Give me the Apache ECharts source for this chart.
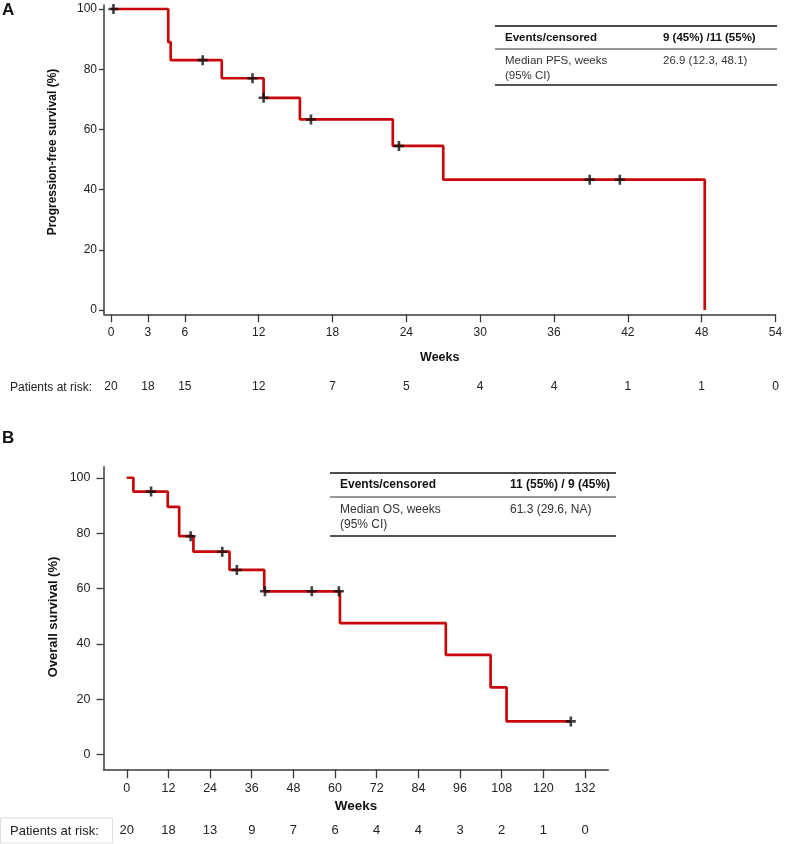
<!DOCTYPE html>
<html>
<head>
<meta charset="utf-8">
<script src="https://cdn.jsdelivr.net/npm/echarts@6/dist/echarts.min.js"></script>
<style>
html,body{margin:0;padding:0;background:#fff;}
#chart{width:786px;height:844px;}
</style>
</head>
<body>
<div id="chart"></div>
<script>
// ---------- Panel A : progression-free survival ----------
const pfsTimes = [0, 4.65, 4.85, 9.0, 12.4, 15.35, 22.9, 27.0, 48.25];
const pfsSurv  = [100, 89, 83, 77, 70.5, 63.3, 54.5, 43.3, 0];
const pfsCensorTimes = [0.2, 7.45, 11.5, 12.4, 16.25, 23.4, 38.9, 41.35];
const pfsCensorSurv  = [100, 83, 77, 70.5, 63.3, 54.5, 43.3, 43.3];
const pfsTicks  = [0, 3, 6, 12, 18, 24, 30, 36, 42, 48, 54];
const pfsAtRisk = [20, 18, 15, 12, 7, 5, 4, 4, 1, 1, 0];

// ---------- Panel B : overall survival ----------
const osTimes = [0, 1.9, 11.8, 15.1, 19.2, 29.6, 39.6, 61.4, 91.9, 104.8, 109.4, 127.9];
const osSurv  = [100, 95, 89.5, 78.9, 73.3, 66.7, 59, 47.5, 36, 24.3, 12, 12];
const osCensorTimes = [7.0, 18.4, 27.5, 31.7, 39.8, 53.3, 61.1, 127.9];
const osCensorSurv  = [95, 78.9, 73.3, 66.7, 59, 59, 59, 12];
const osTicks  = [0, 12, 24, 36, 48, 60, 72, 84, 96, 108, 120, 132];
const osAtRisk = [20, 18, 13, 9, 7, 6, 4, 4, 3, 2, 1, 0];

const yTicks = [0, 20, 40, 60, 80, 100];

const pfsTable = [["Events/censored", "9 (45%) /11 (55%)"], ["Median PFS, weeks\n(95% CI)", "26.9 (12.3, 48.1)"]];
const osTable  = [["Events/censored", "11 (55%) / 9 (45%)"], ["Median OS, weeks\n(95% CI)", "61.3 (29.6, NA)"]];

const FONT = 'Arial, "Liberation Sans", sans-serif';
const RED = '#c8070b';
const AX = '#3a3a3a';
const CROSS = 'path://M3.7,0H6.3V3.7H10V6.3H6.3V10H3.7V6.3H0V3.7H3.7Z';

function zip(a, b) { return a.map((v, i) => [v, b[i]]); }

function mainX(grid, min, max, ticks, tickLen, margin, fs) {
  return {
    type: 'value', gridIndex: grid, min: min, max: max, position: 'bottom',
    axisLine: { show: true, onZero: false, lineStyle: { color: AX, width: 1.5 } },
    axisTick: { show: true, inside: false, customValues: ticks, length: tickLen, lineStyle: { color: AX, width: 1.3 } },
    axisLabel: { customValues: ticks, margin: margin, color: '#222', fontSize: fs, fontFamily: FONT },
    splitLine: { show: false }
  };
}
function riskX(grid, min, max, ticks, risk, offset, fs) {
  return {
    type: 'value', gridIndex: grid, min: min, max: max, position: 'bottom', offset: offset,
    axisLine: { show: false }, axisTick: { show: false }, splitLine: { show: false },
    axisLabel: {
      customValues: ticks, margin: 0, color: '#222', fontSize: fs, fontFamily: FONT,
      formatter: function (v) { const i = ticks.indexOf(v); return i >= 0 ? String(risk[i]) : ''; }
    }
  };
}
function mainY(grid, min, max, tickLen, margin, fs) {
  return {
    type: 'value', gridIndex: grid, min: min, max: max,
    axisLine: { show: true, onZero: false, lineStyle: { color: AX, width: 1.5 } },
    axisTick: { show: true, inside: false, customValues: yTicks, length: tickLen, lineStyle: { color: AX, width: 1.3 } },
    axisLabel: { customValues: yTicks, margin: margin, color: '#222', fontSize: fs, fontFamily: FONT },
    splitLine: { show: false }
  };
}

function tableGraphics(t, x0, x1, colX, yTop, yMid, yBot, fs) {
  const g = [];
  g.push({ type: 'line', shape: { x1: x0, y1: yTop, x2: x1, y2: yTop }, style: { stroke: '#111', lineWidth: 1.5 } });
  g.push({ type: 'line', shape: { x1: x0, y1: yMid, x2: x1, y2: yMid }, style: { stroke: '#777', lineWidth: 1.5 } });
  g.push({ type: 'line', shape: { x1: x0, y1: yBot, x2: x1, y2: yBot }, style: { stroke: '#555', lineWidth: 2 } });
  const hy = (yTop + yMid) / 2;
  g.push({ type: 'text', x: x0 + 10, y: hy, style: { text: t[0][0], font: 'bold ' + fs + 'px ' + FONT, fill: '#111', verticalAlign: 'middle' } });
  g.push({ type: 'text', x: colX, y: hy, style: { text: t[0][1], font: 'bold ' + fs + 'px ' + FONT, fill: '#111', verticalAlign: 'middle' } });
  g.push({ type: 'text', x: x0 + 10, y: yMid + 5, style: { text: t[1][0], font: fs + 'px ' + FONT, fill: '#333', verticalAlign: 'top', lineHeight: fs + 3 } });
  g.push({ type: 'text', x: colX, y: yMid + 5, style: { text: t[1][1], font: fs + 'px ' + FONT, fill: '#333', verticalAlign: 'top', lineHeight: fs + 3 } });
  return g;
}

const chart = echarts.init(document.getElementById('chart'), null, { renderer: 'canvas' });

const graphics = [].concat(
  [
    { type: 'text', x: 2, y: 2, style: { text: 'A', font: 'bold 17px ' + FONT, fill: '#111' } },
    { type: 'text', x: 2, y: 430, style: { text: 'B', font: 'bold 17px ' + FONT, fill: '#111' } },
    { type: 'text', x: 53, y: 152, rotation: Math.PI / 2, style: { text: 'Progression-free survival (%)', font: 'bold 12px ' + FONT, fill: '#111', align: 'center', verticalAlign: 'middle' } },
    { type: 'text', x: 53, y: 617, rotation: Math.PI / 2, style: { text: 'Overall survival (%)', font: 'bold 13px ' + FONT, fill: '#111', align: 'center', verticalAlign: 'middle' } },
    { type: 'text', x: 10, y: 388, style: { text: 'Patients at risk:', font: '12px ' + FONT, fill: '#222', verticalAlign: 'middle' } },
    { type: 'rect', shape: { x: 0.5, y: 818, width: 112, height: 25 }, style: { fill: 'none', stroke: '#ddd', lineWidth: 1 } },
    { type: 'text', x: 10, y: 831, style: { text: 'Patients at risk:', font: '13px ' + FONT, fill: '#222', verticalAlign: 'middle' } }
  ],
  tableGraphics(pfsTable, 495, 777, 663, 26, 49, 85, 11.5),
  tableGraphics(osTable, 330, 616, 510, 473, 497, 536, 12)
);

const option = {
  animation: false,
  backgroundColor: '#fff',
  grid: [
    { left: 104, right: 10.5, top: 5, bottom: 529.7 },
    { left: 103.5, right: 177.7, top: 466.7, bottom: 74.7 }
  ],
  xAxis: [
    Object.assign(mainX(0, -0.57, 54, pfsTicks, 8, 12, 12), {
      name: 'Weeks', nameLocation: 'middle', nameGap: 37,
      nameTextStyle: { fontWeight: 'bold', fontSize: 12.5, color: '#111', fontFamily: FONT }
    }),
    riskX(0, -0.57, 54, pfsTicks, pfsAtRisk, 66, 12),
    Object.assign(mainX(1, -6.7, 138.7, osTicks, 9, 13, 12.5), {
      name: 'Weeks', nameLocation: 'middle', nameGap: 30,
      nameTextStyle: { fontWeight: 'bold', fontSize: 13.5, color: '#111', fontFamily: FONT }
    }),
    riskX(1, -6.7, 138.7, osTicks, osAtRisk, 55, 13)
  ],
  yAxis: [
    mainY(0, -1.43, 101.33, 5, 7, 12),
    mainY(1, -5.3, 104, 7, 13, 12.5)
  ],
  series: [
    {
      type: 'line', xAxisIndex: 0, yAxisIndex: 0, step: 'end', showSymbol: false, symbol: 'none',
      data: zip(pfsTimes, pfsSurv), lineStyle: { color: RED, width: 2.7 }, z: 2
    },
    {
      type: 'scatter', xAxisIndex: 0, yAxisIndex: 0, symbol: CROSS, symbolSize: 10,
      data: zip(pfsCensorTimes, pfsCensorSurv), itemStyle: { color: '#111' }, z: 3
    },
    {
      type: 'line', xAxisIndex: 2, yAxisIndex: 1, step: 'end', showSymbol: false, symbol: 'none',
      data: zip(osTimes, osSurv), lineStyle: { color: RED, width: 2.7 }, z: 2
    },
    {
      type: 'scatter', xAxisIndex: 2, yAxisIndex: 1, symbol: CROSS, symbolSize: 10,
      data: zip(osCensorTimes, osCensorSurv), itemStyle: { color: '#111' }, z: 3
    }
  ],
  graphic: graphics
};
chart.setOption(option);
</script>
</body>
</html>
